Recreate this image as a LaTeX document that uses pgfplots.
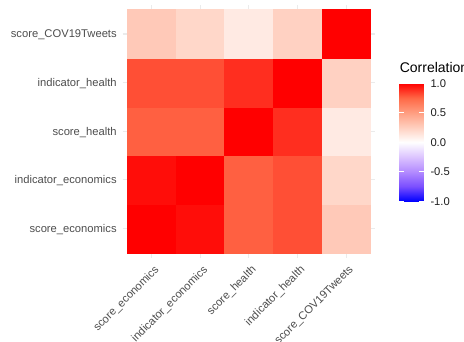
\documentclass[border=0pt]{standalone}
\usepackage{pgfplots}
\pgfplotsset{compat=1.18}
\usepackage{fontspec}
\setmainfont{Liberation Sans}
\definecolor{gridgray}{RGB}{235,235,235}
\definecolor{ticktext}{RGB}{77,77,77}
\definecolor{legtext}{RGB}{30,30,30}
\begin{document}
\begin{tikzpicture}
\begin{axis}[
  at={(122.5bp,84.4bp)}, anchor=south west,
  width=252.8bp, height=252.8bp, scale only axis,
  xmin=-0.6, xmax=4.6, ymin=-0.6, ymax=4.6,
  xtick={0,1,2,3,4}, ytick={0,1,2,3,4},
  xticklabels={score\_economics,indicator\_economics,score\_health,indicator\_health,score\_COV19Tweets},
  yticklabels={score\_economics,indicator\_economics,score\_health,indicator\_health,score\_COV19Tweets},
  grid=major, major grid style={draw=gridgray, line width=1.1bp},
  axis line style={draw=none}, major tick length=0pt,
  tick label style={font=\fontsize{11.2bp}{13bp}\selectfont, text=ticktext, inner sep=0pt},
  yticklabel style={anchor=east, xshift=-5.6bp, yshift=-1bp},
  xticklabel style={xshift=2bp, yshift=-6.7bp, rotate=45, anchor=north east},
  colormap={corr}{rgb255=(0,0,255) rgb255=(123,79,255) rgb255=(179,139,255) rgb255=(220,196,255) rgb255=(255,255,255) rgb255=(255,207,191) rgb255=(255,158,129) rgb255=(255,104,70) rgb255=(255,0,0)},
  point meta min=-1, point meta max=1,
  colorbar,
  colorbar/width=24.5bp,
  colorbar style={
    at={(parent axis.north east)}, anchor=north west,
    xshift=15.3bp, yshift=-78.4bp,
    width=24.5bp, height=118bp, scale only axis,
    axis line style={draw=none},
    ytick={-1,-0.5,0,0.5,1},
    yticklabels={-1.0,-0.5,0.0,0.5,1.0},
    ytick pos=both, tick align=inside,
    major tick length=4.9bp,
    major tick style={draw=white, line width=0.8bp},
    yticklabel pos=right,
    yticklabel style={font=\fontsize{11.2bp}{13bp}\selectfont, text=legtext, anchor=west, inner sep=0pt, xshift=6.7bp},
    title={Correlation},
    title style={at={(0,1)}, anchor=base west, inner sep=0pt, yshift=4.5bp, xshift=0.5bp, font=\fontsize{14bp}{16bp}\selectfont, text=black},
  },
]
\addplot[matrix plot*, mesh/cols=5, point meta=explicit] table[meta=c] {
x y c
0 0 1.00
1 0 0.97
2 0 0.77
3 0 0.81
4 0 0.28
0 1 0.97
1 1 1.00
2 1 0.77
3 1 0.81
4 1 0.21
0 2 0.77
1 2 0.77
2 2 1.00
3 2 0.89
4 2 0.11
0 3 0.81
1 3 0.81
2 3 0.89
3 3 1.00
4 3 0.24
0 4 0.28
1 4 0.21
2 4 0.11
3 4 0.24
4 4 1.00
};
\end{axis}
\pgfresetboundingbox
\useasboundingbox (0,0) rectangle (464bp,342bp);
\end{tikzpicture}
\end{document}
